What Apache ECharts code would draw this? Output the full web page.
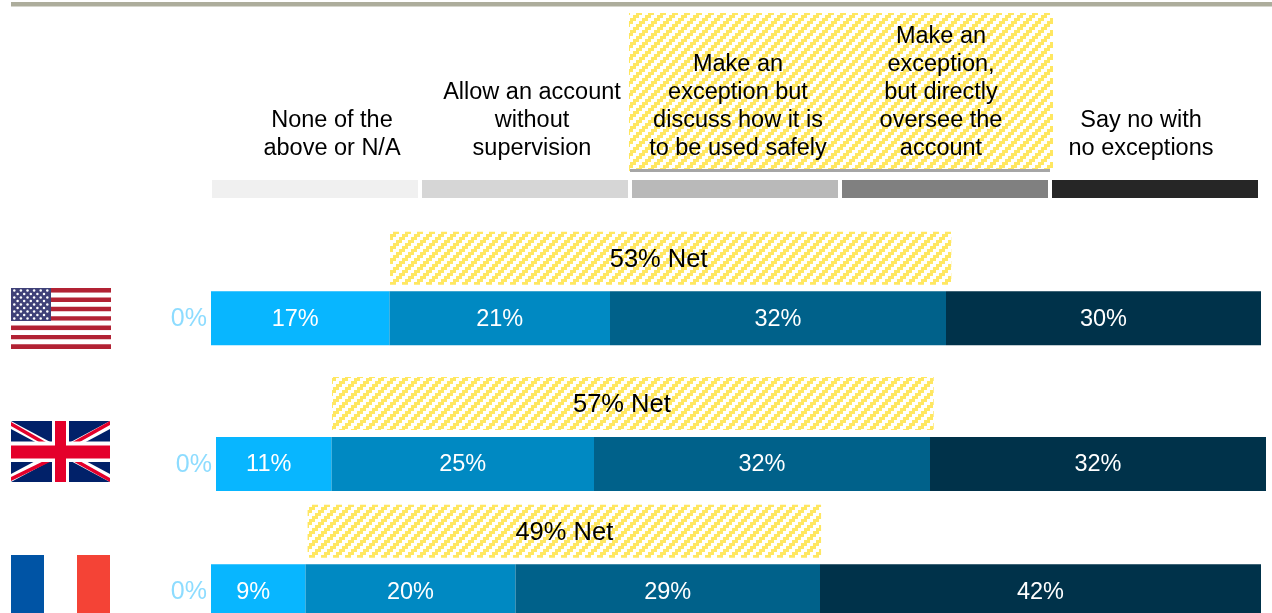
<!DOCTYPE html>
<html><head><meta charset="utf-8">
<style>html,body{margin:0;padding:0;background:#fff;overflow:hidden}#c{width:1272px;height:613px}</style>
<script src="https://cdn.jsdelivr.net/npm/echarts@6/dist/echarts.min.js"></script>
</head><body><div id="c"></div>
<script>
const answerNames = ['None of the above or N/A','Allow an account without supervision','Make an exception but discuss how it is to be used safely','Make an exception, but directly oversee the account','Say no with no exceptions'];
const headerLines = ['None of the\nabove or N/A','Allow an account\nwithout\nsupervision','Make an\nexception but\ndiscuss how it is\nto be used safely','Make an\nexception,\nbut directly\noversee the\naccount','Say no with\nno exceptions'];
const legendShares = [20,20,20,20,20];
const usShares = [0,17,21,32,30];
const ukShares = [0,11,25,32,32];
const frShares = [0,9,20,29,42];
const netLabels = ['53% Net','57% Net','49% Net'];
const netStarts = [17.05,11.05,9.2];
const netWidths = [53.45,57.3,48.9];
const shareColors = ['#8ddcff','#08b6ff','#0089c2','#00618a','#00324a'];
const legendColors = ['#f0f0f0','#d6d6d6','#b9b9b9','#808080','#262626'];

const FONT = '"Liberation Sans", Arial, sans-serif';
const yellow = '#ffe761';
function hatch(){
  const c = document.createElement('canvas'); c.width = c.height = 12;
  const g = c.getContext('2d'); g.fillStyle = '#fff'; g.fillRect(0,0,12,12); g.fillStyle = yellow;
  for(let y=0;y<12;y+=3) for(let x=0;x<12;x+=3){
    if(((x/3+y/3)%4)<2) g.fillRect(x,y,3,3);
  }
  return {image:c, repeat:'repeat'};
}
const hatchFill = hatch();

const rows = [
  {shares:usShares,left:211,top:229,height:119,netOff:-12},
  {shares:ukShares,left:216,top:374,height:120,netOff:-11},
  {shares:frShares,left:211,top:502,height:119,netOff:0}
];
const grid=[{left:210,width:1050,top:175,height:28,outerBoundsMode:'none'}], xAxis=[{gridIndex:0,type:'value',min:0,max:100,show:false}], yAxis=[{gridIndex:0,type:'category',data:['legend'],show:false}], series=[];
legendShares.forEach((v,i)=>series.push({type:'bar',name:'legend'+i,stack:'legend',xAxisIndex:0,yAxisIndex:0,barWidth:22,data:[v],silent:true,
  itemStyle:{color:legendColors[i],borderColor:'#fff',borderWidth:2}}));

rows.forEach((r,ri)=>{
  const gi=ri+1;
  grid.push({left:r.left,width:1050,top:r.top,height:r.height,outerBoundsMode:'none'});
  xAxis.push({gridIndex:gi,type:'value',min:0,max:100,show:false});
  yAxis.push({gridIndex:gi,type:'category',inverse:true,data:['Net','Answers'],show:false});
  series.push({type:'bar',stack:'net'+ri,barGap:'-100%',barWidth:53,xAxisIndex:gi,yAxisIndex:gi,silent:true,data:[netStarts[ri],null],itemStyle:{color:'transparent'}});
  series.push({type:'bar',stack:'net'+ri,barGap:'-100%',barWidth:53,xAxisIndex:gi,yAxisIndex:gi,silent:true,data:[netWidths[ri],null],
    itemStyle:{color:hatchFill},
    label:{show:true,position:'inside',offset:[r.netOff,ri===2?2:1.5],formatter:netLabels[ri],color:'#000',fontFamily:FONT,fontSize:25.5}});
  r.shares.forEach((v,i)=>{
    series.push({type:'bar',stack:'share'+ri,barGap:'-100%',barWidth:54,xAxisIndex:gi,yAxisIndex:gi,silent:true,name:answerNames[i],data:[null,v],
      itemStyle:{color:shareColors[i]},
      label:{show:true,position:i===0?'left':'inside',distance:4,offset:i===1?[-5,1]:[0,1],formatter:'{c}%',color:i===0?'#8ddcff':'#fff',fontFamily:FONT,fontSize:i===0?25:23.5}});
  });
});

// header texts, hatched header box, rule and flags
const graphic=[];
graphic.push({type:'rect',shape:{x:11,y:2,width:1261,height:4.5},style:{fill:'#adad9c'}});
graphic.push({type:'rect',shape:{x:629,y:13,width:424,height:158},style:{fill:hatchFill}});
graphic.push({type:'rect',shape:{x:630,y:169,width:420,height:3},style:{fill:'#a6a6a6'}});
const headerX=[332,532,738,941,1141];
headerLines.forEach((t,i)=>graphic.push({type:'text',z:5,style:{text:t,x:headerX[i],y:162.5,align:'center',verticalAlign:'bottom',fill:'#000',font:'23.5px '+FONT,lineHeight:28}}));

// US flag
const red='#b22234', navy='#3f4178';
for(let s=0;s<13;s++){
  graphic.push({type:'rect',shape:{x:11,y:288+s*61/13,width:100,height:61/13},style:{fill:s%2?'#fff':red}});
}
graphic.push({type:'rect',shape:{x:11,y:288,width:40,height:33},style:{fill:navy}});
for(let row=0;row<9;row++){
  const n=row%2?5:6;
  for(let k=0;k<n;k++){
    graphic.push({type:'circle',shape:{cx:14.3+(row%2?3.3:0)+k*6.6,cy:290.6+row*3.5,r:1.25},style:{fill:'#fff'}});
  }
}
// UK flag
const ukX=11,ukY=421,ukW=99,ukH=61,ukBlue='#012169',ukRed='#e4002b';
graphic.push({type:'rect',shape:{x:ukX,y:ukY,width:ukW,height:ukH},style:{fill:ukBlue}});
[[[0,0],[ukW,ukH]],[[ukW,0],[0,ukH]]].forEach(l=>{
  graphic.push({type:'polygon',shape:{points:[[ukX+l[0][0],Math.max(ukY,ukY+l[0][1]-8)],[ukX+l[1][0],Math.min(ukY+ukH,ukY+l[1][1]-8)],[ukX+l[1][0],Math.min(ukY+ukH,ukY+l[1][1]+8)],[ukX+l[0][0],ukY+l[0][1]+8]]},style:{fill:'#fff'}});
});
const ukRedLine=(x1,y1,x2,y2)=>graphic.push({type:'polygon',shape:{points:[[ukX+x1,ukY+y1],[ukX+x2,ukY+y2],[ukX+x2,ukY+y2+4],[ukX+x1,ukY+y1+4]]},style:{fill:ukRed}});
ukRedLine(0,1,41,24.6); ukRedLine(58,34,99,57);
ukRedLine(58,23,99,0); ukRedLine(0,56,41,36);
graphic.push({type:'rect',shape:{x:ukX+41,y:ukY,width:17,height:ukH},style:{fill:'#fff'}});
graphic.push({type:'rect',shape:{x:ukX,y:ukY+20.5,width:ukW,height:20.5},style:{fill:'#fff'}});
graphic.push({type:'rect',shape:{x:ukX+44,y:ukY,width:11,height:ukH},style:{fill:ukRed}});
graphic.push({type:'rect',shape:{x:ukX,y:ukY+24.5,width:ukW,height:13},style:{fill:ukRed}});
// France flag
graphic.push({type:'rect',shape:{x:11,y:555,width:33,height:60},style:{fill:'#0054a5'}});
graphic.push({type:'rect',shape:{x:77,y:555,width:33,height:60},style:{fill:'#f44336'}});

const chart=echarts.init(document.getElementById('c'),null,{renderer:'canvas'});
chart.setOption({animation:false,backgroundColor:'#fff',tooltip:{show:false},grid,xAxis,yAxis,series,graphic});
</script></body></html>
